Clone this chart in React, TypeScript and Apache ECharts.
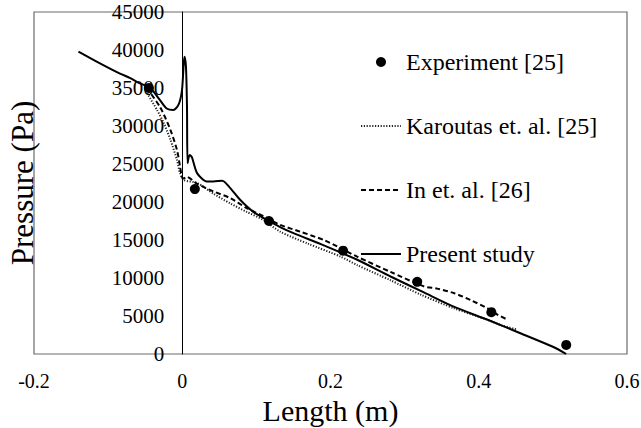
import React, { useEffect, useRef } from "react";
import * as echarts from "echarts";

// Axial pressure distribution along the channel length
const xExp = [-0.045, 0.017, 0.117, 0.217, 0.317, 0.417, 0.518];
const pExp = [35000, 21700, 17500, 13600, 9500, 5500, 1200];

const xKar = [-0.05, -0.046, -0.034, -0.025, -0.016, -0.007, -0.003, 0.002, 0.02, 0.042, 0.065, 0.087, 0.11, 0.132, 0.17, 0.214, 0.236, 0.281, 0.322, 0.367, 0.412, 0.43, 0.452];
const pKar = [35000, 34100, 32100, 30400, 28200, 25500, 23800, 22900, 22500, 21100, 19800, 18700, 17600, 16100, 14500, 12800, 11700, 9700, 7800, 6000, 4500, 3800, 3200];

const xIn = [-0.048, -0.03, -0.016, -0.007, -0.003, -0.0004, 0.002, 0.006, 0.02, 0.042, 0.065, 0.087, 0.11, 0.132, 0.159, 0.191, 0.214, 0.236, 0.281, 0.326, 0.344, 0.367, 0.389, 0.412, 0.421, 0.439];
const pIn = [35000, 32500, 29500, 26800, 24700, 23300, 23100, 23300, 22400, 21400, 20500, 19200, 18100, 17000, 16100, 15000, 13900, 12800, 10800, 8900, 8600, 8000, 7100, 6000, 5400, 4500];

const xPresent = [-0.14, -0.111, -0.084, -0.07, -0.057, -0.043, -0.03, -0.021, -0.012, -0.005, -0.0004, 0.002, 0.003, 0.005, 0.0064, 0.0072, 0.0099, 0.013, 0.02, 0.033, 0.042, 0.054, 0.065, 0.078, 0.096, 0.115, 0.132, 0.15, 0.191, 0.236, 0.281, 0.326, 0.367, 0.412, 0.457, 0.5, 0.518];
const pPresent = [39800, 38250, 36900, 36300, 35600, 35000, 33400, 32300, 32100, 32800, 34700, 38200, 39100, 37800, 32500, 25100, 26200, 25900, 23800, 22700, 22700, 22800, 21800, 20300, 18700, 17600, 16700, 15900, 14300, 12400, 10200, 8100, 6200, 4500, 2700, 950, 0];

const seriesNames = ["Experiment [25]", "Karoutas et. al. [25]", "In et. al. [26]", "Present study"];
const xTicks = { min: -0.2, max: 0.6, interval: 0.2 };
const yTicks = { min: 0, max: 45000, interval: 5000 };

const FONT = "'Liberation Serif', 'Times New Roman', serif";

const GRID_LEFT = 34;
const GRID_RIGHT = 14;
const CHART_W = 641;

const pairs = (xs: number[], ys: number[]) => xs.map((x, i) => [x, ys[i]]);

// line-only legend entries: hide the marker the line legend would draw
const lineOnly = (name: string) => ({ name, itemStyle: { opacity: 0 } });

export default function App() {
  const ref = useRef<HTMLDivElement>(null);

  useEffect(() => {
    if (!ref.current) return;
    const chart = echarts.init(ref.current, null, { renderer: "svg" });
    // horizontal pixel distance from the plot's left edge to x = 0
    const plotW = CHART_W - GRID_LEFT - GRID_RIGHT;
    const zeroOffset = ((0 - xTicks.min) / (xTicks.max - xTicks.min)) * plotW;

    chart.setOption({
      animation: false,
      backgroundColor: "#ffffff",
      textStyle: { fontFamily: FONT, color: "#000" },
      grid: {
        left: GRID_LEFT,
        right: GRID_RIGHT,
        top: 12,
        bottom: 74,
        containLabel: false,
        outerBoundsMode: "none",
        show: true,
        borderColor: "#6b6b6b",
        borderWidth: 1.2,
      },
      legend: {
        orient: "vertical",
        left: 355,
        top: 45,
        itemWidth: 40,
        itemHeight: 10,
        itemGap: 40,
        selectedMode: false,
        textStyle: { fontFamily: FONT, fontSize: 24, color: "#000", lineHeight: 24 },
        data: [
          { name: seriesNames[0], itemStyle: { color: "#000", opacity: 1 } },
          lineOnly(seriesNames[1]),
          lineOnly(seriesNames[2]),
          lineOnly(seriesNames[3]),
        ],
      },
      xAxis: {
        type: "value",
        min: xTicks.min,
        max: xTicks.max,
        interval: xTicks.interval,
        name: "Length (m)",
        nameLocation: "middle",
        nameGap: 38,
        nameTextStyle: { fontFamily: FONT, fontSize: 30, color: "#000" },
        axisLine: { show: false, onZero: false },
        axisTick: { show: false },
        splitLine: { show: false },
        axisLabel: { fontFamily: FONT, fontSize: 20, color: "#000", margin: 17 },
      },
      yAxis: {
        type: "value",
        min: yTicks.min,
        max: yTicks.max,
        interval: yTicks.interval,
        offset: -zeroOffset,
        axisLine: { show: true, onZero: false, lineStyle: { color: "#000", width: 1 } },
        axisTick: { show: false },
        splitLine: { show: false },
        axisLabel: {
          fontFamily: FONT,
          fontSize: 21,
          color: "#000",
          margin: 18,
          formatter: (v: number) => String(v),
        },
      },
      graphic: [
        {
          type: "text",
          x: 22,
          y: 183,
          rotation: Math.PI / 2,
          style: {
            text: "Pressure (Pa)",
            fontFamily: FONT,
            fontSize: 31,
            fill: "#000",
            align: "center",
            verticalAlign: "middle",
          },
        },
      ],
      series: [
        {
          name: seriesNames[1],
          type: "line",
          data: pairs(xKar, pKar),
          symbol: "none",
          smooth: 0.25,
          itemStyle: { color: "#222" },
          lineStyle: { color: "#222", width: 2, type: [1.2, 1.6] },
          z: 2,
        },
        {
          name: seriesNames[2],
          type: "line",
          data: pairs(xIn, pIn),
          symbol: "none",
          smooth: 0.25,
          itemStyle: { color: "#000" },
          lineStyle: { color: "#000", width: 2, type: [5, 3] },
          z: 3,
        },
        {
          name: seriesNames[3],
          type: "line",
          data: pairs(xPresent, pPresent),
          symbol: "none",
          smooth: 0.25,
          itemStyle: { color: "#000" },
          lineStyle: { color: "#000", width: 2 },
          z: 4,
        },
        {
          name: seriesNames[0],
          type: "scatter",
          data: pairs(xExp, pExp),
          symbol: "circle",
          symbolSize: 10,
          itemStyle: { color: "#000", opacity: 1 },
          z: 5,
        },
      ],
    });
    return () => chart.dispose();
  }, []);

  return (
    <div
      ref={ref}
      style={{ position: "fixed", left: 0, top: 0, width: 641, height: 428 }}
    />
  );
}
